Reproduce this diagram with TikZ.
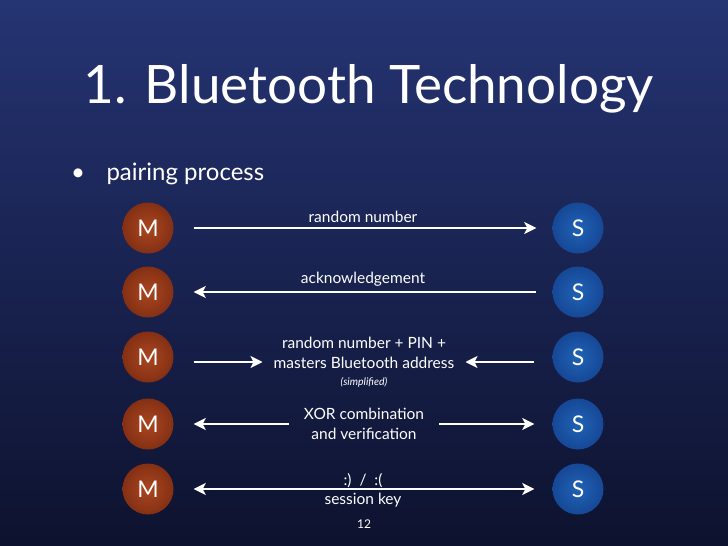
\documentclass[tikz,border=0pt]{standalone}
\usepackage{fontspec}
\setmainfont{Lato}
\usetikzlibrary{positioning,shapes,arrows,arrows.meta,calc}
\definecolor{bgtop}{RGB}{37,52,115}
\definecolor{bgbot}{RGB}{13,18,46}
\definecolor{mcol}{RGB}{170,70,32}
\definecolor{mrim}{RGB}{132,48,20}
\definecolor{scol}{RGB}{32,98,182}
\definecolor{srim}{RGB}{22,72,150}
\tikzset{
  master/.style={circle, minimum size=51pt, inner sep=0pt, shade, inner color=mcol, outer color=mrim, text=white, font=\fontsize{23}{23}\selectfont},
  slave/.style={circle, minimum size=51pt, inner sep=0pt, shade, inner color=scol, outer color=srim, text=white, font=\fontsize{23}{23}\selectfont},
  lbl/.style={text=white, align=center, font=\fontsize{15.5}{20}\selectfont},
  msg/.style={draw=white, line width=2.4pt, -{Stealth[length=12pt,width=12pt,inset=3pt]}}
}
\begin{document}
\begin{tikzpicture}[x=1pt,y=-1pt]
\shade[top color=bgtop, bottom color=bgbot] (0,0) rectangle (728,546);
\useasboundingbox (0,0) rectangle (728,546);
\node[text=white, anchor=base west, font=\fontsize{53}{56}\selectfont] (title) at (80,103) {1. Bluetooth Technology};
\node[text=white, anchor=base, font=\fontsize{24}{24}\selectfont] (bul) at (78,180) {\textbullet};
\node[text=white, anchor=base west, font=\fontsize{24}{24}\selectfont] (sub) at (103,180) {pairing process};
% left and right stations
\node[master] (M1) at (148,228) {M};
\node[master] (M2) at (148,292) {M};
\node[master] (M3) at (148,357) {M};
\node[master] (M4) at (148,424) {M};
\node[master] (M5) at (148,489) {M};
\node[slave] (S1) at (578,228) {S};
\node[slave] (S2) at (578,292) {S};
\node[slave] (S3) at (578,357) {S};
\node[slave] (S4) at (578,424) {S};
\node[slave] (S5) at (578,489) {S};
% messages
\draw[msg, shorten <=20pt, shorten >=16pt] (M1) -- node[lbl, above=1pt] (lab1) {random number} (S1);
\draw[msg, shorten <=16pt, shorten >=20pt] (S2) -- node[lbl, above=1pt] (lab2) {acknowledgement} (M2);
\node[lbl, inner xsep=11pt] (lab3) at (364,362) {random number + PIN +\\masters Bluetooth address\\[-3pt]{\fontsize{10.5}{12}\selectfont\itshape (simplified)}};
\draw[msg, shorten <=20pt] (M3.east |- lab3.west) -- (lab3.west);
\draw[msg, shorten <=18pt] (S3.west |- lab3.east) -- (lab3.east);
\node[lbl, inner xsep=15pt] (lab4) at (364,424) {XOR combination\\and verification};
\draw[msg, shorten >=20pt] (M4 -| lab4.west) -- (M4);
\draw[msg, shorten >=18pt] (S4 -| lab4.east) -- (S4);
\draw[msg, {Stealth[length=12pt,width=12pt,inset=3pt]}-{Stealth[length=12pt,width=12pt,inset=3pt]}, shorten <=20pt, shorten >=18pt] (M5) -- node[lbl, above=-3pt] (lab5a) {:)~~/~~:(} node[lbl, below=0pt] (lab5b) {session key} (S5);
\node[text=white, font=\fontsize{12}{12}\selectfont] (page) at (364,524) {12};
\end{tikzpicture}
\end{document}
